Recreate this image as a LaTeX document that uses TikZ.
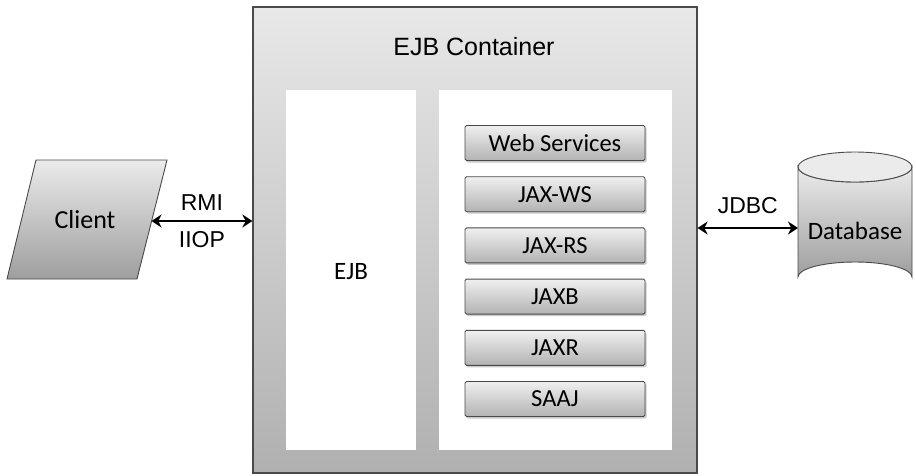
\documentclass[tikz,border=0pt]{standalone}
\usepackage{fontspec}
\setmainfont{Carlito}
\newfontfamily\arialf{Liberation Sans}
\usetikzlibrary{arrows.meta,shadows}
\definecolor{bordergray}{HTML}{4A4A4A}
\tikzset{
  container/.style={draw=bordergray, line width=1.2pt, top color=black!9, bottom color=black!31, inner sep=0pt},
  panel/.style={fill=white, draw=none, inner sep=0pt, minimum height=360},
  apibox/.style={draw=bordergray, line width=0.9pt, top color=black!6, bottom color=black!30, rounded corners=1.5pt,
    minimum width=180, minimum height=35, inner sep=0pt, font=\fontsize{24.5}{28}\selectfont,
    drop shadow={shadow xshift=1.5pt, shadow yshift=-2pt, fill=black!35, opacity=0.6}},
  bigtext/.style={font=\fontsize{25}{29}\selectfont},
  arialtext/.style={font=\arialf\fontsize{23}{27}\selectfont},
  conn/.style={line width=2.6pt, {Stealth[length=10pt,width=13pt]}-{Stealth[length=10pt,width=13pt]}},
}
\begin{document}
\begin{tikzpicture}[x=1pt,y=-1pt]
\useasboundingbox[fill=white] (0,0) rectangle (916,475);
% container
\node[container, minimum width=444, minimum height=466] (cont) at (475,240) {};
\node[font=\arialf\fontsize{25}{30}\selectfont] (title) at (474,47) {EJB Container};
\node[panel, minimum width=130] (ejbpanel) at (351,270) {};
\node[panel, minimum width=233] (wspanel) at (555.5,270) {};
\node[bigtext] (ejb) at (351,272) {EJB};
% api boxes
\node[apibox] (b1) at (555,143) {Web Services};
\node[apibox] (b2) at (555,194.2) {JAX-WS};
\node[apibox] (b3) at (555,245.4) {JAX-RS};
\node[apibox] (b4) at (555,296.6) {JAXB};
\node[apibox] (b5) at (555,347.8) {JAXR};
\node[apibox] (b6) at (555,399) {SAAJ};
% client parallelogram
\path[draw=bordergray, line width=0.9pt, top color=black!8, bottom color=black!38]
  (36,160) -- (167,160) -- (137,279) -- (7,279) -- cycle;
\node[font=\fontsize{26}{30}\selectfont] (client) at (85,220) {Client};
\coordinate (clientR) at (151.5,221);
% database cylinder
\path[draw=bordergray, line width=0.9pt, top color=black!8, bottom color=black!38]
  (798,167) -- (798,277) arc[start angle=180, end angle=360, x radius=57, y radius=15]
  -- (912,167) arc[start angle=0, end angle=180, x radius=57, y radius=15] -- cycle;
\path[draw=bordergray, line width=0.9pt, fill=black!8]
  (855,167) ellipse[x radius=57, y radius=15];
\node[bigtext] (db) at (855,231) {Database};
\coordinate (dbW) at (798,228);
% connectors
\draw[conn] (clientR) -- (clientR -| cont.west)
  node[midway, above=6pt, arialtext] (rmi) {RMI}
  node[midway, below=6pt, arialtext] (iiop) {IIOP};
\draw[conn] (dbW -| cont.east) -- (dbW)
  node[midway, above=10pt, arialtext] (jdbc) {JDBC};
\end{tikzpicture}
\end{document}
